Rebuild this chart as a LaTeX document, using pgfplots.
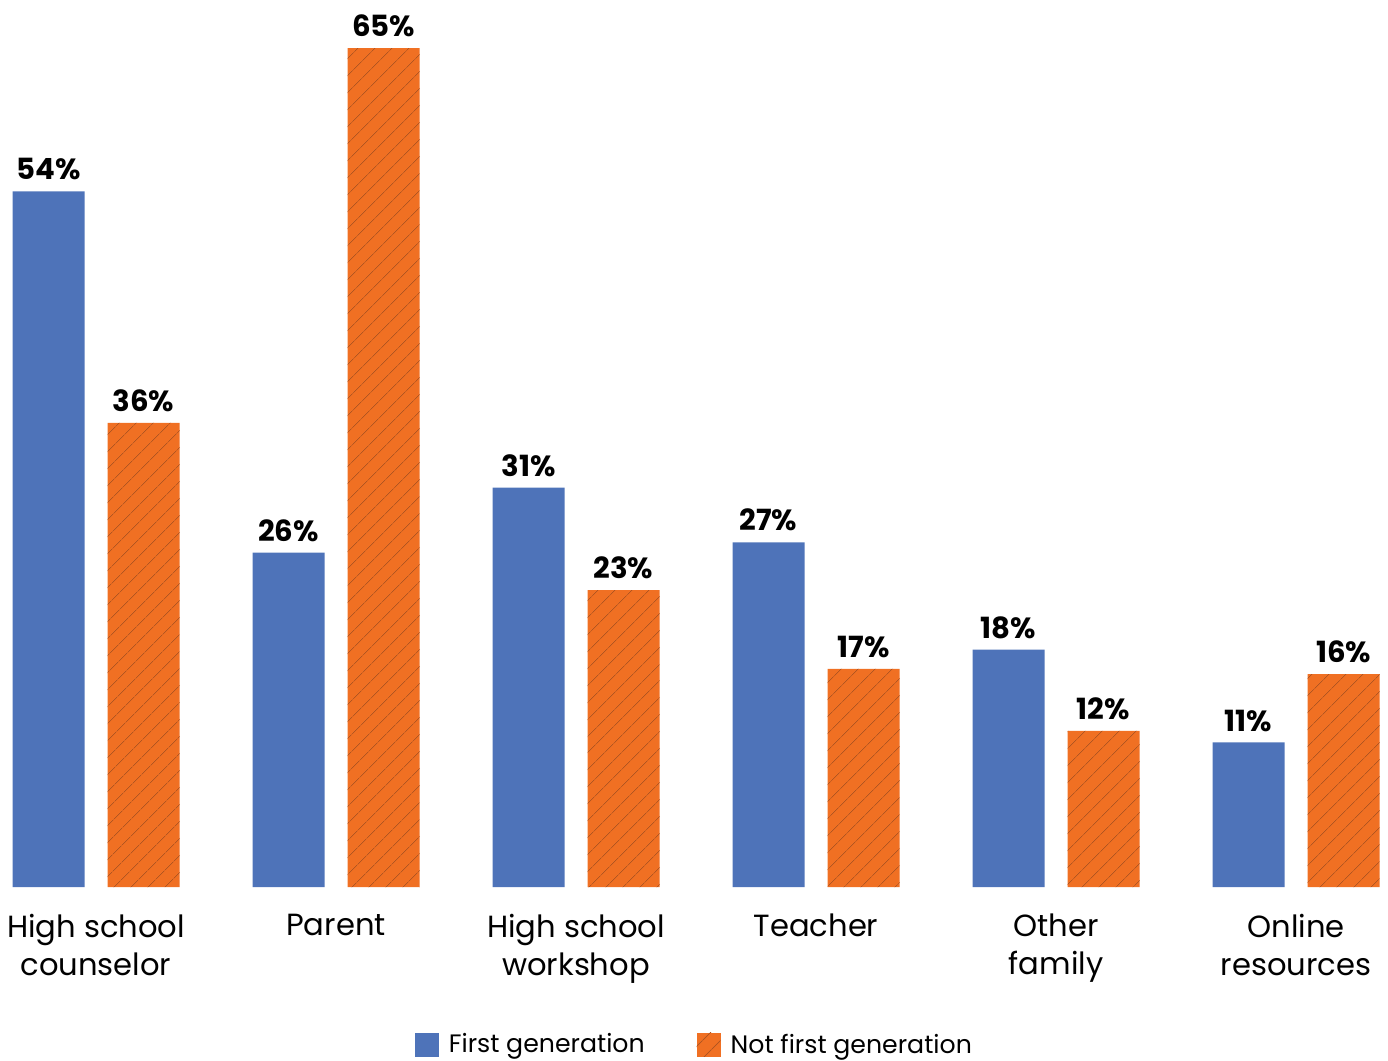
\documentclass[border=0pt]{standalone}
\usepackage{pgfplots}
\pgfplotsset{compat=1.18}
\usepackage{fontspec}
\setmainfont{Poppins}
\usetikzlibrary{patterns.meta}
\definecolor{fgblue}{HTML}{4E73B9}
\definecolor{nfgorange}{HTML}{F07023}
\definecolor{hatchc}{HTML}{B05521}
\begin{document}
\begin{tikzpicture}
\useasboundingbox (0,-87pt) rectangle (694pt,443.5pt);
\begin{axis}[
  at={(0,0)}, anchor=south west,
  scale only axis, width=694pt, height=443.5pt,
  xmin=-0.4, xmax=5.3833, ymin=0, ymax=68.72,
  ybar=11.5pt, bar width=36pt,
  axis line style={draw=none},
  ytick=\empty,
  xtick={0,1,2,3,4,5},
  xticklabels={{High school\\counselor},{Parent},{High school\\workshop},{Teacher},{Other\\family},{Online\\resources}},
  major tick length=0pt,
  xticklabel style={align=center, font=\fontsize{15.3}{19}\selectfont, text=black, yshift=-10pt},
  clip=false,
  nodes near coords,
  point meta=explicit symbolic,
  nodes near coords style={font=\bfseries\fontsize{14.6}{16}\selectfont, text=black, yshift=2pt},
  legend columns=2,
  legend style={draw=none, at={(0.501,-0.178)}, anchor=center, font=\fontsize{12.6}{15}\selectfont,
    /tikz/column 1/.style={column sep=3pt},
    /tikz/column 2/.style={column sep=24pt},
    /tikz/column 3/.style={column sep=3pt}},
  legend image code/.code={\draw[#1,draw=none] (0pt,-6pt) rectangle (12pt,6pt);},
]
\addplot[fill=fgblue, draw=none] coordinates {
  (0,53.9) [54\%]
  (1,25.9) [26\%]
  (2,30.95) [31\%]
  (3,26.7) [27\%]
  (4,18.4) [18\%]
  (5,11.2) [11\%]
};
\addplot[fill=nfgorange, draw=none, postaction={pattern={Lines[angle=45,distance=6.5pt,line width=0.4pt]}, pattern color=hatchc}] coordinates {
  (0,35.95) [36\%]
  (1,65) [65\%]
  (2,23) [23\%]
  (3,16.9) [17\%]
  (4,12.1) [12\%]
  (5,16.5) [16\%]
};
\legend{First generation, Not first generation}
\end{axis}
\end{tikzpicture}
\end{document}
